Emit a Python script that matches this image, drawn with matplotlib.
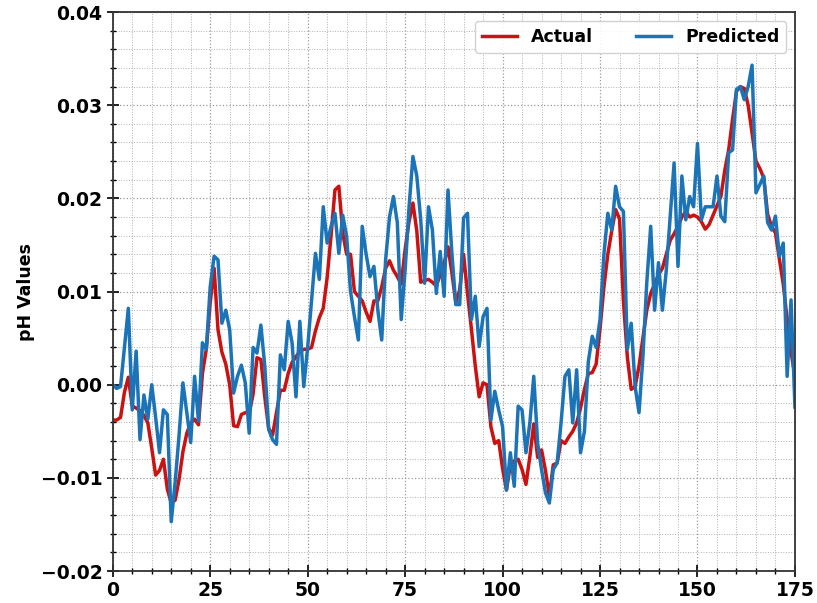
import numpy as np
import matplotlib
matplotlib.use('Agg')
import matplotlib.pyplot as plt
from matplotlib.ticker import MultipleLocator

# pH series, one value per sample index
actual = [
    -0.0038, -0.0038, -0.0035, -0.0008, 0.0008, -0.0023, -0.0025, -0.0028, -0.0033, -0.0041,
    -0.0068, -0.0097, -0.0092, -0.0080, -0.0112, -0.0127, -0.0124, -0.0102, -0.0072, -0.0052,
    -0.0041, -0.0037, -0.0043, 0.0012, 0.0038, 0.0088, 0.0125, 0.0059, 0.0035, 0.0022,
    0.0000, -0.0044, -0.0045, -0.0032, -0.0030, -0.0031, -0.0010, 0.0029, 0.0027, -0.0013,
    -0.0047, -0.0054, -0.0030, -0.0006, -0.0006, 0.0012, 0.0024, 0.0030, 0.0036, 0.0038,
    0.0038, 0.0040, 0.0058, 0.0072, 0.0082, 0.0115, 0.0160, 0.0209, 0.0213, 0.0163,
    0.0140, 0.0140, 0.0100, 0.0095, 0.0090, 0.0078, 0.0068, 0.0090, 0.0090, 0.0105,
    0.0125, 0.0133, 0.0123, 0.0116, 0.0108, 0.0145, 0.0175, 0.0195, 0.0165, 0.0110,
    0.0112, 0.0113, 0.0110, 0.0106, 0.0118, 0.0130, 0.0148, 0.0120, 0.0088, 0.0102,
    0.0140, 0.0098, 0.0060, 0.0020, -0.0013, 0.0002, 0.0000, -0.0045, -0.0063, -0.0060,
    -0.0090, -0.0113, -0.0086, -0.0082, -0.0080, -0.0091, -0.0107, -0.0077, -0.0042, -0.0078,
    -0.0070, -0.0092, -0.0120, -0.0086, -0.0084, -0.0060, -0.0063, -0.0056, -0.0050, -0.0041,
    -0.0025, -0.0005, 0.0012, 0.0013, 0.0022, 0.0060, 0.0105, 0.0140, 0.0165, 0.0188,
    0.0178, 0.0090, 0.0030, -0.0005, -0.0002, 0.0020, 0.0050, 0.0080, 0.0098, 0.0108,
    0.0118, 0.0125, 0.0140, 0.0155, 0.0162, 0.0170, 0.0180, 0.0186, 0.0180, 0.0182,
    0.0180, 0.0175, 0.0167, 0.0172, 0.0182, 0.0192, 0.0202, 0.0230, 0.0252, 0.0285,
    0.0315, 0.0320, 0.0318, 0.0300, 0.0270, 0.0240, 0.0232, 0.0222, 0.0183, 0.0170,
    0.0163, 0.0135, 0.0108, 0.0070, 0.0035, 0.0009,
]

predicted = [
    0.0000, -0.0004, -0.0002, 0.0040, 0.0082, -0.0027, 0.0036, -0.0059, -0.0011, -0.0037,
    0.0000, -0.0035, -0.0073, -0.0027, -0.0032, -0.0147, -0.0105, -0.0055, 0.0002, -0.0030,
    -0.0062, 0.0009, -0.0039, 0.0045, 0.0038, 0.0105, 0.0138, 0.0134, 0.0066, 0.0080,
    0.0059, -0.0009, 0.0009, 0.0021, 0.0002, -0.0052, 0.0040, 0.0034, 0.0064, 0.0020,
    -0.0048, -0.0059, -0.0064, 0.0032, 0.0016, 0.0068, 0.0045, -0.0013, 0.0068, -0.0002,
    0.0040, 0.0090, 0.0141, 0.0113, 0.0191, 0.0152, 0.0170, 0.0184, 0.0141, 0.0182,
    0.0159, 0.0100, 0.0073, 0.0048, 0.0170, 0.0140, 0.0116, 0.0127, 0.0080, 0.0048,
    0.0134, 0.0180, 0.0202, 0.0174, 0.0070, 0.0123, 0.0190, 0.0245, 0.0224, 0.0177,
    0.0109, 0.0191, 0.0166, 0.0098, 0.0143, 0.0095, 0.0209, 0.0141, 0.0086, 0.0086,
    0.0179, 0.0184, 0.0070, 0.0095, 0.0041, 0.0073, 0.0082, -0.0038, -0.0007, -0.0027,
    -0.0045, -0.0113, -0.0073, -0.0109, -0.0023, -0.0027, -0.0073, -0.0041, 0.0009, -0.0063,
    -0.0091, -0.0116, -0.0127, -0.0091, -0.0084, -0.0041, 0.0009, 0.0016, -0.0041, 0.0016,
    -0.0073, -0.0050, 0.0025, 0.0052, 0.0040, 0.0070, 0.0140, 0.0184, 0.0166, 0.0213,
    0.0191, 0.0186, 0.0038, 0.0066, -0.0002, -0.0030, 0.0030, 0.0110, 0.0170, 0.0080,
    0.0131, 0.0080, 0.0123, 0.0180, 0.0238, 0.0127, 0.0224, 0.0177, 0.0202, 0.0191,
    0.0259, 0.0177, 0.0191, 0.0191, 0.0191, 0.0224, 0.0181, 0.0175, 0.0249, 0.0252,
    0.0317, 0.0320, 0.0306, 0.0320, 0.0343, 0.0206, 0.0215, 0.0224, 0.0174, 0.0166,
    0.0181, 0.0138, 0.0152, 0.0009, 0.0091, -0.0024,
]

x = np.arange(len(actual))

plt.rcParams['font.family'] = 'DejaVu Sans'
plt.rcParams['font.weight'] = 'bold'

fig = plt.figure(figsize=(8.17, 6.03), dpi=100)
ax = fig.add_axes([0.138, 0.053, 0.835, 0.927])

ax.plot(x, actual, color='#cc1111', linewidth=2.5, label='Actual')
ax.plot(x, predicted, color='#1c74b8', linewidth=2.5, label='Predicted')

ax.set_xlim(0, 175)
ax.set_ylim(-0.02, 0.04)
ax.xaxis.set_major_locator(MultipleLocator(25))
ax.xaxis.set_minor_locator(MultipleLocator(5))
ax.yaxis.set_major_locator(MultipleLocator(0.01))
ax.yaxis.set_minor_locator(MultipleLocator(0.002))

ax.tick_params(which='major', direction='inout', length=8, width=1.2, labelsize=13.5)
ax.tick_params(which='minor', direction='inout', length=5, width=1.0)
for lbl in ax.get_xticklabels() + ax.get_yticklabels():
    lbl.set_fontweight('bold')

# dotted grid on both major and minor ticks
ax.grid(True, which='major', linestyle=':', linewidth=0.9, color='#9a9a9a')
ax.grid(True, which='minor', linestyle=':', linewidth=0.7, color='#b0b0b0')

for sp in ax.spines.values():
    sp.set_linewidth(1.3)
    sp.set_color('#333333')

ax.set_ylabel('pH Values', fontsize=12.5, fontweight='bold')
ax.legend(loc='upper right', ncol=2, prop={'weight': 'bold', 'size': 12.5},
          handlelength=2.0, columnspacing=2.5, framealpha=0.9)

plt.savefig('out.png', dpi=100)
plt.close()
